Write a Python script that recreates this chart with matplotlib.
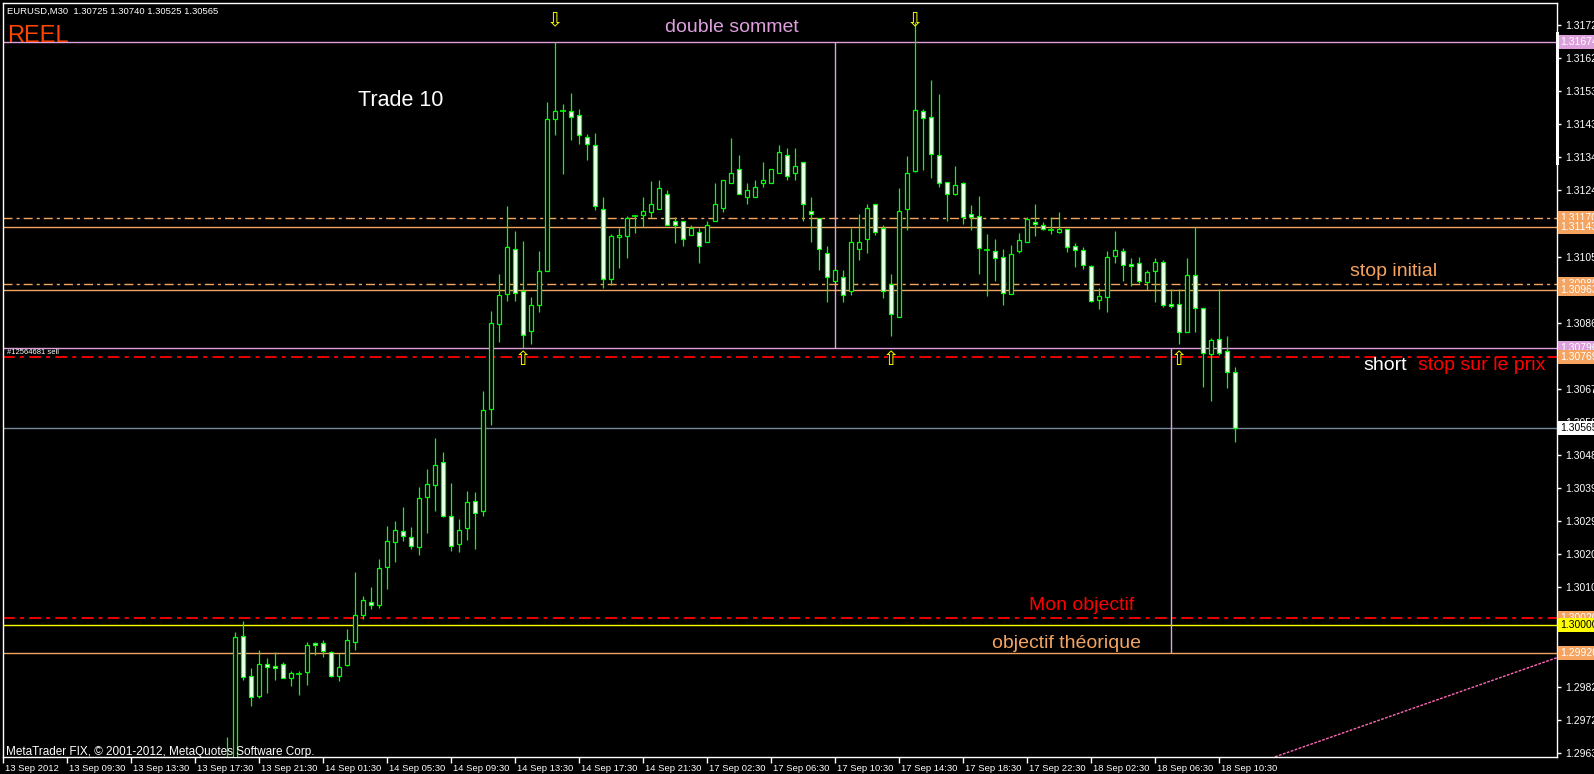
import numpy as np
import matplotlib
matplotlib.use("Agg")
import matplotlib.pyplot as plt
from matplotlib.transforms import blended_transform_factory, ScaledTranslation

# ---------------- data ----------------
symbol_header = "EURUSD,M30  1.30725 1.30740 1.30525 1.30565"
first_bar = 28  # index of first visible bar (bar 0 = left edge, 13 Sep 2012)

opens = [1.29500, 1.29550, 1.29969, 1.29854, 1.29795, 1.29888, 1.29883, 1.29888, 1.29848, 1.29860,
         1.29864, 1.29948, 1.29948, 1.29923, 1.29853, 1.29884, 1.29950, 1.30029, 1.30066, 1.30057,
         1.30166, 1.30237, 1.30270, 1.30253, 1.30224, 1.30368, 1.30402, 1.30468, 1.30312, 1.30233,
         1.30279, 1.30356, 1.30328, 1.30620, 1.30864, 1.30950, 1.31080, 1.30959, 1.30844, 1.30919,
         1.31016, 1.31453, 1.31477, 1.31476, 1.31464, 1.31401, 1.31378, 1.31194, 1.30993, 1.31113,
         1.31116, 1.31173, 1.31176, 1.31187, 1.31194, 1.31237, 1.31160, 1.31160, 1.31120, 1.31128,
         1.31100, 1.31160, 1.31197, 1.31269, 1.31309, 1.31229, 1.31229, 1.31269, 1.31269, 1.31298,
         1.31349, 1.31298, 1.31329, 1.31189, 1.31168, 1.31068, 1.30988, 1.30999, 1.30959, 1.31080,
         1.31108, 1.31209, 1.31140, 1.30979, 1.30884, 1.31194, 1.31303, 1.31475, 1.31458, 1.31349,
         1.31272, 1.31237, 1.31269, 1.31180, 1.31174, 1.31078, 1.31074, 1.31057, 1.30950, 1.31074,
         1.31101, 1.31157, 1.31148, 1.31133, 1.31128, 1.31137, 1.31088, 1.31077, 1.31031, 1.30933,
         1.30941, 1.31059, 1.31074, 1.31037, 1.31039, 1.30984, 1.31016, 1.31042, 1.30921, 1.30923,
         1.30841, 1.31005, 1.30909, 1.30778, 1.30821, 1.30787, 1.30725]
highs = [1.29677, 1.29980, 1.30010, 1.29877, 1.29929, 1.29904, 1.29923, 1.29894, 1.29867, 1.29867,
         1.29952, 1.29952, 1.29956, 1.29926, 1.29918, 1.29987, 1.30153, 1.30084, 1.30109, 1.30188,
         1.30285, 1.30297, 1.30340, 1.30280, 1.30396, 1.30448, 1.30537, 1.30497, 1.30408, 1.30303,
         1.30384, 1.30382, 1.30673, 1.30902, 1.31009, 1.31204, 1.31132, 1.31103, 1.30943, 1.31075,
         1.31502, 1.31674, 1.31497, 1.31528, 1.31482, 1.31410, 1.31413, 1.31230, 1.31123, 1.31141,
         1.31175, 1.31178, 1.31230, 1.31276, 1.31278, 1.31250, 1.31171, 1.31160, 1.31148, 1.31140,
         1.31160, 1.31270, 1.31278, 1.31399, 1.31350, 1.31269, 1.31278, 1.31330, 1.31309, 1.31379,
         1.31370, 1.31370, 1.31329, 1.31230, 1.31168, 1.31088, 1.31019, 1.31019, 1.31140, 1.31180,
         1.31209, 1.31209, 1.31148, 1.31008, 1.31255, 1.31347, 1.31732, 1.31482, 1.31565, 1.31525,
         1.31272, 1.31318, 1.31272, 1.31206, 1.31233, 1.31123, 1.31108, 1.31080, 1.31091, 1.31125,
         1.31171, 1.31210, 1.31157, 1.31171, 1.31187, 1.31137, 1.31097, 1.31085, 1.31034, 1.30968,
         1.31075, 1.31131, 1.31082, 1.31054, 1.31057, 1.31019, 1.31054, 1.31048, 1.30964, 1.30964,
         1.31054, 1.31143, 1.30909, 1.30824, 1.30966, 1.30831, 1.30740]
lows = [1.29400, 1.29450, 1.29841, 1.29767, 1.29789, 1.29803, 1.29843, 1.29848, 1.29824, 1.29798,
        1.29827, 1.29913, 1.29909, 1.29851, 1.29839, 1.29882, 1.29927, 1.30016, 1.30046, 1.30048,
        1.30102, 1.30180, 1.30240, 1.30218, 1.30200, 1.30263, 1.30326, 1.30310, 1.30212, 1.30209,
        1.30244, 1.30217, 1.30312, 1.30573, 1.30812, 1.30929, 1.30929, 1.30795, 1.30806, 1.30900,
        1.31016, 1.31408, 1.31296, 1.31393, 1.31382, 1.31336, 1.31193, 1.30969, 1.30977, 1.31026,
        1.31055, 1.31127, 1.31144, 1.31170, 1.31194, 1.31148, 1.31098, 1.31087, 1.31120, 1.31039,
        1.31100, 1.31160, 1.31187, 1.31269, 1.31237, 1.31209, 1.31229, 1.31257, 1.31269, 1.31298,
        1.31278, 1.31278, 1.31160, 1.31100, 1.31019, 1.30926, 1.30988, 1.30926, 1.30948, 1.31048,
        1.31068, 1.31120, 1.30938, 1.30829, 1.30884, 1.31133, 1.31300, 1.31306, 1.31283, 1.31257,
        1.31160, 1.31235, 1.31151, 1.31134, 1.31007, 1.30944, 1.30989, 1.30918, 1.30950, 1.31068,
        1.31100, 1.31117, 1.31133, 1.31123, 1.31125, 1.31071, 1.31027, 1.31022, 1.30926, 1.30908,
        1.30898, 1.31039, 1.30987, 1.30972, 1.30981, 1.30961, 1.30926, 1.30912, 1.30909, 1.30806,
        1.30841, 1.30840, 1.30682, 1.30642, 1.30774, 1.30679, 1.30525]
closes = [1.29580, 1.29966, 1.29851, 1.29794, 1.29888, 1.29880, 1.29876, 1.29848, 1.29863, 1.29860,
          1.29943, 1.29943, 1.29926, 1.29853, 1.29880, 1.29958, 1.30029, 1.30072, 1.30056, 1.30164,
          1.30241, 1.30273, 1.30256, 1.30227, 1.30365, 1.30405, 1.30460, 1.30312, 1.30227, 1.30273,
          1.30353, 1.30322, 1.30617, 1.30867, 1.30948, 1.31085, 1.30953, 1.30833, 1.30919, 1.31016,
          1.31453, 1.31476, 1.31477, 1.31458, 1.31407, 1.31381, 1.31203, 1.30993, 1.31117, 1.31120,
          1.31168, 1.31173, 1.31189, 1.31210, 1.31255, 1.31148, 1.31148, 1.31108, 1.31140, 1.31088,
          1.31148, 1.31209, 1.31278, 1.31298, 1.31237, 1.31249, 1.31257, 1.31278, 1.31309, 1.31358,
          1.31289, 1.31318, 1.31209, 1.31180, 1.31080, 1.30999, 1.31019, 1.30948, 1.31100, 1.31100,
          1.31197, 1.31128, 1.30959, 1.30893, 1.31189, 1.31298, 1.31478, 1.31455, 1.31352, 1.31269,
          1.31237, 1.31263, 1.31171, 1.31171, 1.31082, 1.31078, 1.31054, 1.30953, 1.31065, 1.31105,
          1.31166, 1.31151, 1.31137, 1.31133, 1.31137, 1.31085, 1.31077, 1.31034, 1.30929, 1.30945,
          1.31057, 1.31077, 1.31034, 1.31031, 1.30987, 1.31014, 1.31042, 1.30918, 1.30915, 1.30841,
          1.31005, 1.30909, 1.30781, 1.30818, 1.30781, 1.30727, 1.30565]

price_ticks = [1.31723, 1.31628, 1.31533, 1.31438, 1.31343, 1.31248, 1.31153, 1.31058, 1.30963,
               1.30868, 1.30773, 1.30678, 1.30583, 1.30488, 1.30393, 1.30298, 1.30203, 1.30108,
               1.30013, 1.29918, 1.29823, 1.29728, 1.29633]
date_tick_bars = [0, 8, 16, 24, 32, 40, 48, 56, 64, 72, 80, 88, 96, 104, 112, 120, 128, 136, 144, 152]
date_labels = ["13 Sep 2012", "13 Sep 09:30", "13 Sep 13:30", "13 Sep 17:30", "13 Sep 21:30",
               "14 Sep 01:30", "14 Sep 05:30", "14 Sep 09:30", "14 Sep 13:30", "14 Sep 17:30",
               "14 Sep 21:30", "17 Sep 02:30", "17 Sep 06:30", "17 Sep 10:30", "17 Sep 14:30",
               "17 Sep 18:30", "17 Sep 22:30", "18 Sep 02:30", "18 Sep 06:30", "18 Sep 10:30"]

double_top = 1.31674
neckline = 1.30796
stop_initial_dd = [1.31170, 1.30980]
stop_initial_solid = [1.31143, 1.30963]
stop_price = 1.30769
bid_price = 1.30565
my_target = 1.30020
round_level = 1.30000
theory_target = 1.29920
neck_vline_bar = 104
target_vline_bar = 146
top_arrow_bars = [69, 114]
bottom_arrow_bars = [65, 111, 147]
trend_bars = [159, 194.25]
trend_prices = [1.29621, 1.29906]

# ---------------- style ----------------
LIME = "#00FF00"
PLUM = "#DDA0DD"
SANDY = "#F4A460"
RED = "#FF0000"
YELLOW = "#FFFF00"
GRAY = "#778899"
HOTPINK = "#FF69B4"
DASHDOT = (0, (6.5, 2.9, 2.2, 2.9))

W, H = 1594, 774
fig = plt.figure(figsize=(W / 100, H / 100), dpi=100, facecolor="black")
ax = fig.add_axes([3 / W, 17 / H, 1554 / W, 754 / H], facecolor="black")
ax.set_xlim(0, 194.25)
ax.set_ylim(1.296206, 1.317862)

for s in ax.spines.values():
    s.set_color("white")
    s.set_linewidth(1.0)

# ---- horizontal / vertical objects ----
ax.axhline(double_top, color=PLUM, lw=1, zorder=2)
for p in stop_initial_dd:
    ax.axhline(p, color=SANDY, lw=1, ls=DASHDOT, zorder=2)
for p in stop_initial_solid:
    ax.axhline(p, color=SANDY, lw=1, zorder=2)
ax.axhline(neckline, color=PLUM, lw=1, zorder=2)
ax.axhline(stop_price, color=RED, lw=1.3, ls=DASHDOT, zorder=2)
ax.axhline(bid_price, color=GRAY, lw=1, zorder=2)
ax.axhline(my_target, color=RED, lw=1.3, ls=DASHDOT, zorder=2)
ax.axhline(round_level, color=YELLOW, lw=1, zorder=2)
ax.axhline(theory_target, color=SANDY, lw=1, zorder=2)
ax.vlines([neck_vline_bar], neckline, double_top, color=PLUM, lw=1, zorder=2)
ax.vlines([target_vline_bar], theory_target, neckline, color=PLUM, lw=1, zorder=2)
ax.plot(trend_bars, trend_prices, color=HOTPINK, lw=1, ls=(0, (2, 1)), zorder=2)

# ---- candles ----
x = np.arange(first_bar, first_bar + len(opens))
o = np.array(opens); h = np.array(highs); l = np.array(lows); c = np.array(closes)
ax.vlines(x, l, h, colors=LIME, lw=0.9, zorder=3)
body = np.abs(c - o)
doji = body < 5e-6
bull = (c > o) & ~doji
bear = (c < o) & ~doji
ax.bar(x[bull], body[bull], bottom=o[bull], width=0.55, color="black",
       edgecolor=LIME, linewidth=0.9, zorder=4)
ax.bar(x[bear], body[bear], bottom=c[bear], width=0.55, color="white",
       edgecolor=LIME, linewidth=0.9, zorder=4)
ax.hlines(o[doji], x[doji] - 0.35, x[doji] + 0.35, colors=LIME, lw=1.2, zorder=4)

# ---- arrows ----
for b in top_arrow_bars:
    ax.text(b, 1.31734, "\u21e9", color=YELLOW, fontsize=14, ha="center", va="center",
            family="DejaVu Sans", zorder=6)
for b in bottom_arrow_bars:
    ax.text(b, 1.30761, "\u21e7", color=YELLOW, fontsize=14, ha="center", va="center",
            family="DejaVu Sans", zorder=6)

# ---- annotations ----
F = "Liberation Sans"
ax.text(91.1, 1.31717, "double sommet", color=PLUM, fontsize=14, ha="center", va="center", family=F)
ax.text(44.4, 1.31505, "Trade 10", color="white", fontsize=15.5, ha="left", va="center", family=F)
ax.text(168.4, 1.31016, "stop initial", color=SANDY, fontsize=14, ha="left", va="center", family=F)
ax.text(170.1, 1.30745, "short", color="white", fontsize=14, ha="left", va="center", family=F)
ax.text(176.9, 1.30745, "stop sur le prix", color=RED, fontsize=14, ha="left", va="center", family=F)
ax.text(128.25, 1.30055, "Mon objectif", color=RED, fontsize=14, ha="left", va="center", family=F)
ax.text(123.6, 1.29948, "objectif théorique", color=SANDY, fontsize=14, ha="left", va="center", family=F)
ax.text(0.5, stop_price + 0.00003, "#12564681 sell", color="white", fontsize=5.5, ha="left",
        va="bottom", family=F)

fig.text(7 / W, 1 - 14 / H, symbol_header, color="white", fontsize=6.8, family=F, va="baseline")
fig.text(7 / W, 1 - 42 / H, "REEL", color="#FF4500", fontsize=17, family=F, va="baseline")
fig.text(6 / W, 1 - 755 / H, "MetaTrader FIX, © 2001-2012, MetaQuotes Software Corp.",
         color="white", fontsize=8.5, family=F, va="baseline")

# ---- axes ticks ----
ax.yaxis.tick_right()
ax.set_yticks(price_ticks)
ax.set_yticklabels([f"{p:.5f}" for p in price_ticks])
ax.tick_params(axis="y", colors="white", labelsize=7.5, length=3, pad=3, width=1)
ax.set_xticks(date_tick_bars)
ax.set_xticklabels(date_labels)
ax.tick_params(axis="x", colors="white", labelsize=6.8, length=4, pad=1, width=1)
off = ScaledTranslation(2 / 100, 0, fig.dpi_scale_trans)
for lab in ax.get_xticklabels():
    lab.set_ha("left")
    lab.set_transform(lab.get_transform() + off)
    lab.set_family(F)
for lab in ax.get_yticklabels():
    lab.set_family(F)

# ---- price labels on the scale ----
tr = blended_transform_factory(ax.transAxes, ax.transData)
boxes = [(double_top, PLUM, "white"), (1.31170, SANDY, "white"), (1.31143, SANDY, "white"),
         (1.30980, SANDY, "white"), (1.30963, SANDY, "white"), (neckline, PLUM, "white"),
         (stop_price, SANDY, "white"), (bid_price, "white", "black"), (my_target, SANDY, "white"),
         (round_level, YELLOW, "black"), (theory_target, SANDY, "white")]
for p, fc, tc in boxes:
    ax.text(1.0018, p, f"{p:.5f}", transform=tr, color=tc, fontsize=7.5, family=F,
            ha="left", va="center", clip_on=False, zorder=10,
            bbox=dict(boxstyle="square,pad=0.18", fc=fc, ec="none"))
ax.plot([1.0, 1.0], [1.31699, 1.31326], transform=tr, color="white", lw=2.2,
        clip_on=False, zorder=11)

fig.savefig("out.png", dpi=100, facecolor="black")
